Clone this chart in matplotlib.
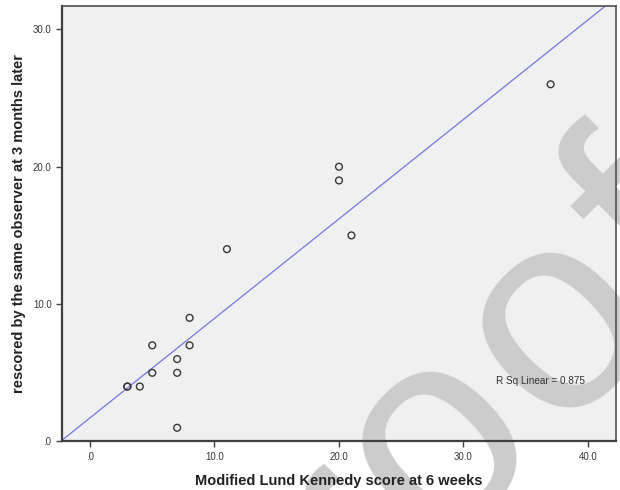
import numpy as np
import matplotlib
matplotlib.use("Agg")
import matplotlib.pyplot as plt

# Data
lund_6wk = [3, 3, 4, 5, 5, 7, 7, 7, 8, 8, 11, 20, 20, 21, 37]
rescore_3mo = [4, 4, 4, 7, 5, 6, 5, 1, 9, 7, 14, 20, 19, 15, 26]
x_ticks = [0, 10, 20, 30, 40]
x_tick_labels = [".0", "10.0", "20.0", "30.0", "40.0"]
y_ticks = [0, 10, 20, 30]
y_tick_labels = [".0", "10.0", "20.0", "30.0"]
x_label = "Modified Lund Kennedy score at 6 weeks"
y_label = "rescored by the same observer at 3 months later"
watermark = "Proof"

plt.rcParams['font.family'] = ['Liberation Sans', 'DejaVu Sans']

W, H = 620, 490
fig = plt.figure(figsize=(W / 100, H / 100), dpi=100)
ax = fig.add_axes([0.1, 0.099, 0.8935, 0.8888])
ax.set_facecolor('#F0F0F0')

x = np.array(lund_6wk, dtype=float)
y = np.array(rescore_3mo, dtype=float)
slope, intercept = np.polyfit(x, y, 1)
r2 = np.corrcoef(x, y)[0, 1] ** 2

xlim = (-2.25, 42.25)
ylim = (0, 31.7)
xs = np.array(xlim)
ax.plot(xs, slope * xs + intercept, color='#7676DE', lw=0.9, zorder=2)
ax.scatter(x, y, s=24, facecolors='none', edgecolors='#383838', linewidths=1.0, zorder=3)

ax.set_xlim(*xlim)
ax.set_ylim(*ylim)
ax.set_xticks(x_ticks)
ax.set_xticklabels(x_tick_labels)
ax.set_yticks(y_ticks)
ax.set_yticklabels(y_tick_labels)
ax.tick_params(direction='out', length=4.5, width=1.0, colors='#404040',
               labelsize=7, labelcolor='#3a3a3a', pad=3)
for side in ['left', 'bottom']:
    ax.spines[side].set_linewidth(1.6)
    ax.spines[side].set_color('#404040')
for side in ['top', 'right']:
    ax.spines[side].set_linewidth(1.2)
    ax.spines[side].set_color('#505050')

ax.set_xlabel(x_label, fontsize=10.5, fontweight='bold', color='#222222', labelpad=9)
ax.set_ylabel(y_label, fontsize=10.5, fontweight='bold', color='#222222', labelpad=5)

ax.text(0.783, 0.139, f"R Sq Linear = {r2:.3f}", transform=ax.transAxes,
        fontsize=7.2, color='#333333', ha='left', va='center')

# watermark: letters laid along a 45 degree baseline with a little extra spacing
wm_size = 205
em = wm_size * 100 / 72.0
advances = {'P': 0.667, 'r': 0.333, 'o': 0.556, 'f': 0.278}
spacing = 1.065
theta = np.deg2rad(45)
u = np.array([np.cos(theta), np.sin(theta)])
start = np.array([219.8, -274.5])
offset = 0.0
for ch in watermark:
    px, py = start + offset * em * spacing * u
    ax.text(px / W, py / H, ch, transform=fig.transFigure, fontsize=wm_size,
            color='#CCCCCC', rotation=45, rotation_mode='anchor', ha='left',
            va='baseline', zorder=0.5, clip_on=False)
    offset += advances[ch]

fig.savefig('out.png', dpi=100)
